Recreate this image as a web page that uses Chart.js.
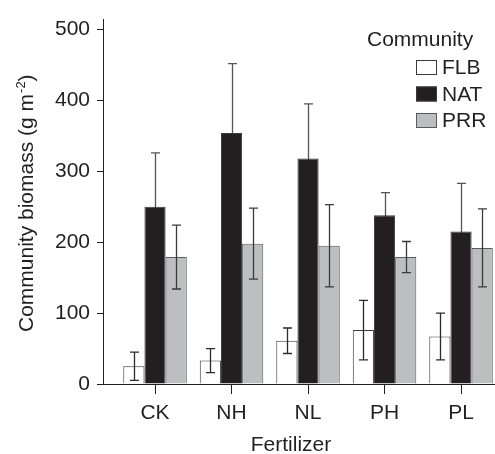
<!DOCTYPE html>
<html>
<head>
<meta charset="utf-8">
<script src="https://cdn.jsdelivr.net/npm/chart.js@4.4.1/dist/chart.umd.min.js"></script>
<style>
  html, body { margin: 0; padding: 0; background: #fff; overflow: hidden; }
  #wrap { width: 495px; height: 454px; }
</style>
</head>
<body>
<div id="wrap"><canvas id="chart" width="495" height="454"></canvas></div>
<script>
    // data
    const categories = ['CK', 'NH', 'NL', 'PH', 'PL'];
    const yTicks = [0, 100, 200, 300, 400, 500];

    const flbMean = [25, 33, 61, 76, 67];
    const flbErr = [20, 17, 18, 42, 33];
    const natMean = [250, 354, 318, 238, 215];
    const natErr = [76, 98, 77, 32, 68];
    const prrMean = [179, 198, 195, 179, 192];
    const prrErr = [45, 50, 58, 22, 55];

    const font = '"Liberation Sans", Arial, Helvetica, sans-serif';
    const ink = '#231f20';

    function points(values) {
        return values.map((v, i) => ({ x: i, y: v }));
    }

    function drawErrors(chart, onTop) {
        const ctx = chart.ctx;
        const yScale = chart.scales.y;
        chart.data.datasets.forEach((ds, di) => {
            if (!!ds.errorOnTop !== onTop) return;
            const meta = chart.getDatasetMeta(di);
            meta.data.forEach((bar, i) => {
                const v = ds.data[i].y;
                const e = ds.errorBars[i];
                const top = yScale.getPixelForValue(v + e);
                const bot = yScale.getPixelForValue(v - e);
                const x = Math.round(bar.x) + 0.5;
                ctx.save();
                ctx.strokeStyle = ds.errorColor;
                ctx.lineWidth = 1.3;
                ctx.beginPath();
                ctx.moveTo(x, top);
                ctx.lineTo(x, bot);
                ctx.moveTo(x - 4.5, top);
                ctx.lineTo(x + 4.5, top);
                ctx.moveTo(x - 4.5, bot);
                ctx.lineTo(x + 4.5, bot);
                ctx.stroke();
                ctx.restore();
            });
        });
    }

    const errorBarPlugin = {
        id: 'errorBars',
        beforeDatasetsDraw(chart) { drawErrors(chart, false); },
        afterDatasetsDraw(chart) { drawErrors(chart, true); }
    };

    const labelsPlugin = {
        id: 'figureText',
        afterDraw(chart) {
            const ctx = chart.ctx;
            ctx.save();
            ctx.fillStyle = ink;

            // y title with superscript
            ctx.translate(33, 332);
            ctx.rotate(-Math.PI / 2);
            ctx.textAlign = 'left';
            ctx.textBaseline = 'alphabetic';
            ctx.font = '21px ' + font;
            const main = 'Community biomass (g m';
            ctx.fillText(main, 0, 0);
            let w = ctx.measureText(main).width;
            ctx.font = '13px ' + font;
            ctx.fillText('-2', w + 1, -8);
            w += ctx.measureText('-2').width + 1;
            ctx.font = '21px ' + font;
            ctx.fillText(')', w, 0);
            ctx.setTransform(1, 0, 0, 1, 0, 0);

            // x title
            ctx.textAlign = 'center';
            ctx.fillText('Fertilizer', 291, 451);

            // legend
            ctx.textAlign = 'left';
            ctx.textBaseline = 'middle';
            ctx.fillText('Community', 367, 40);
            chart.data.datasets.forEach((ds, i) => {
                const cy = 67.5 + i * 26.5;
                ctx.fillStyle = ds.backgroundColor;
                ctx.fillRect(416, cy - 7.5, 21, 15);
                ctx.strokeStyle = ds.borderColor;
                ctx.lineWidth = 1;
                ctx.strokeRect(416.5, cy - 7, 20, 14);
                ctx.fillStyle = ink;
                ctx.fillText(ds.label, 442, cy + 1);
            });
            ctx.restore();
        }
    };

    new Chart(document.getElementById('chart'), {
        type: 'bar',
        data: {
            datasets: [
                { label: 'FLB', data: points(flbMean), errorBars: flbErr, backgroundColor: '#ffffff', borderColor: '#3a3a3a', errorColor: '#2a2a2a', errorOnTop: true },
                { label: 'NAT', data: points(natMean), errorBars: natErr, backgroundColor: ink, borderColor: '#3a3a3a', errorColor: '#555555', errorOnTop: false },
                { label: 'PRR', data: points(prrMean), errorBars: prrErr, backgroundColor: '#bcbec0', borderColor: '#5a5a5a', errorColor: '#3a3a3a', errorOnTop: true }
            ]
        },
        options: {
            responsive: false,
            animation: false,
            devicePixelRatio: 1,
            layout: { padding: { top: 19.5, right: 0, bottom: 0, left: 0 } },
            datasets: {
                bar: { borderWidth: 1, barPercentage: 1, categoryPercentage: 0.83 }
            },
            plugins: { legend: { display: false }, tooltip: { enabled: false } },
            scales: {
                x: {
                    type: 'linear',
                    offset: false,
                    min: -0.68,
                    max: 4.444,
                    afterBuildTicks: s => { s.ticks = categories.map((c, i) => ({ value: i })); },
                    afterFit: s => { s.height = 70; },
                    ticks: {
                        callback: v => categories[v],
                        font: { family: font, size: 21 },
                        color: ink,
                        padding: 7,
                        maxRotation: 0
                    },
                    grid: { display: true, offset: false, drawOnChartArea: false, drawTicks: true, tickLength: 10, color: ink },
                    border: { display: true, color: ink, width: 1 }
                },
                y: {
                    min: 0,
                    max: 514,
                    afterBuildTicks: s => { s.ticks = yTicks.map(v => ({ value: v })); },
                    afterFit: s => { s.width = 103; },
                    ticks: {
                        font: { family: font, size: 21 },
                        color: ink,
                        padding: 7
                    },
                    grid: { display: true, drawOnChartArea: false, drawTicks: true, tickLength: 6, color: ink },
                    border: { display: true, color: ink, width: 1 }
                }
            }
        },
        plugins: [errorBarPlugin, labelsPlugin]
    });
</script>
</body>
</html>
